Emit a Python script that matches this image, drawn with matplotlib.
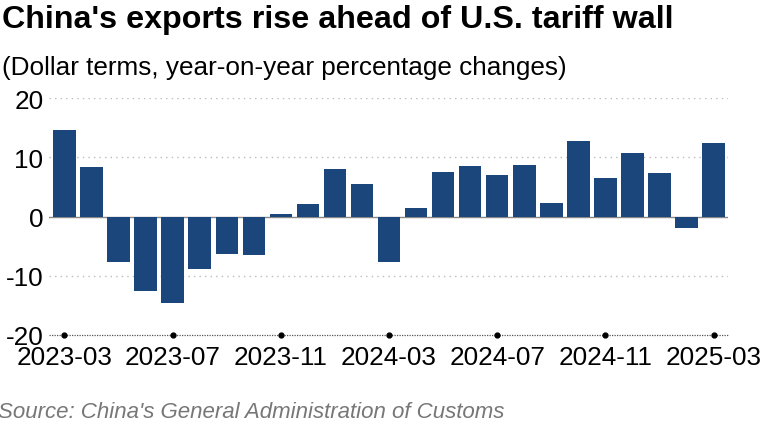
import matplotlib
matplotlib.use("Agg")
import matplotlib.pyplot as plt

plt.rcParams['font.family'] = ['Liberation Sans', 'DejaVu Sans']

months = ["2023-03", "2023-04", "2023-05", "2023-06", "2023-07", "2023-08", "2023-09",
          "2023-10", "2023-11", "2023-12", "2024-01", "2024-02", "2024-03", "2024-04",
          "2024-05", "2024-06", "2024-07", "2024-08", "2024-09", "2024-10", "2024-11",
          "2024-12", "2025-01", "2025-02", "2025-03"]
values = [14.7, 8.4, -7.6, -12.5, -14.6, -8.9, -6.3, -6.4, 0.4, 2.2, 8.1, 5.5,
          -7.6, 1.4, 7.5, 8.6, 7.0, 8.7, 2.3, 12.7, 6.6, 10.7, 7.3, -2.0, 12.4]
yticks = [-20, -10, 0, 10, 20]
tick_every = 4

W, H = 765, 427
fig = plt.figure(figsize=(W / 100, H / 100), dpi=100)
ax = fig.add_axes([49 / W, 1 - 336 / H, (728 - 49) / W, (336 - 99.3) / H])

x = list(range(len(months)))
ax.bar(x, values, width=0.83, color='#1a467c', zorder=3)

ax.set_ylim(-20, 20)
ax.set_xlim(-0.57, len(months) - 0.47)

for v in [10, 20, -10]:
    ax.axhline(v, color='#bbbbbb', linestyle=(0, (1, 3)), linewidth=1.0, zorder=1)
ax.axhline(0, color='#888888', linewidth=1.0, zorder=2)
ax.axhline(-20, color='#555555', linestyle=(0, (1, 1)), linewidth=0.9, zorder=2, clip_on=False)

tick_pos = x[::tick_every]
ax.plot(tick_pos, [-20] * len(tick_pos), 'o', color='black', markersize=3.5, zorder=4, clip_on=False)

for s in ax.spines.values():
    s.set_visible(False)

ax.set_yticks(yticks)
ax.set_yticklabels([str(v) for v in yticks], fontsize=18.8)
ax.set_xticks(tick_pos)
ax.set_xticklabels([months[i] for i in tick_pos], fontsize=18.8)
ax.tick_params(axis='both', length=0)
ax.tick_params(axis='y', pad=4)
ax.tick_params(axis='x', pad=7)

fig.text(0.003, 1 - 20 / H, "China's exports rise ahead of U.S. tariff wall",
         fontsize=23.2, fontweight='bold', va='center', ha='left')
fig.text(0.003, 1 - 68 / H, "(Dollar terms, year-on-year percentage changes)",
         fontsize=18.8, va='center', ha='left')
fig.text(-0.002, 1 - 413 / H, "Source: China's General Administration of Customs",
         fontsize=16.0, style='italic', color='#777777', va='center', ha='left')

fig.savefig("out.png", dpi=100, facecolor='white')
